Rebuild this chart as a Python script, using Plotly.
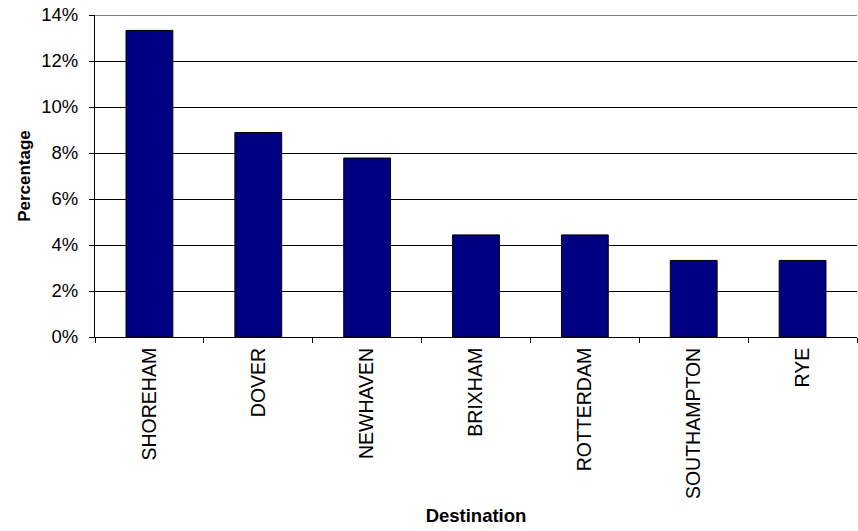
import plotly.graph_objects as go

categories = ["SHOREHAM", "DOVER", "NEWHAVEN", "BRIXHAM", "ROTTERDAM", "SOUTHAMPTON", "RYE"]
values = [0.1333, 0.0889, 0.0778, 0.0444, 0.0444, 0.0333, 0.0333]
y_ticks = [0, 0.02, 0.04, 0.06, 0.08, 0.10, 0.12, 0.14]
y_tick_labels = ["0%", "2%", "4%", "6%", "8%", "10%", "12%", "14%"]

fig = go.Figure(go.Bar(
    x=categories, y=values,
    marker=dict(color="#000080", line=dict(color="#000000", width=1)),
))

font = "Liberation Sans, Arial, sans-serif"
fig.update_layout(
    width=858, height=531,
    margin=dict(l=95, r=1, t=15, b=194),
    paper_bgcolor="white", plot_bgcolor="white",
    bargap=0.57,
    showlegend=False,
    font=dict(family=font, size=18, color="black"),
    xaxis=dict(
        type="category",
        tickangle=-90,
        tickson="boundaries",
        ticks="outside", ticklen=5, tickcolor="black",
        showline=True, linecolor="black", linewidth=1,
        showgrid=False,
        automargin=False,
        ticklabelstandoff=2,
        tickfont=dict(family=font, size=19.5),
        title=dict(text="<b>Destination</b>", font=dict(family=font, size=18.5), standoff=10),
    ),
    yaxis=dict(
        range=[0, 0.14],
        tickvals=y_ticks, ticktext=y_tick_labels,
        ticks="outside", ticklen=5, tickcolor="black",
        showline=True, linecolor="black", linewidth=1,
        showgrid=True, gridcolor="#000000", gridwidth=1,
        zeroline=False,
        automargin=False,
        ticklabelstandoff=7,
        tickfont=dict(family=font, size=18.5),
        title=dict(text="<b>Percentage</b>", font=dict(family=font, size=17), standoff=6),
    ),
)
fig.add_shape(type="line", xref="paper", yref="y", x0=0, x1=1, y0=0.14, y1=0.14,
              line=dict(color="black", width=1))

fig.write_html("out.html")
